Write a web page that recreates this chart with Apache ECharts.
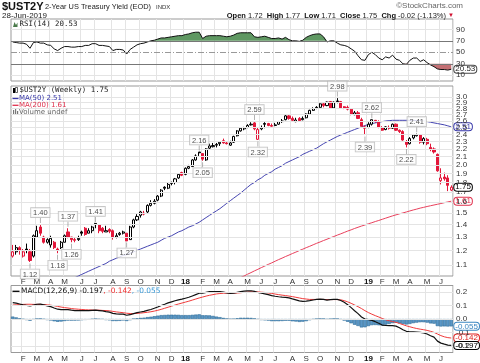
<!DOCTYPE html>
<html>
<head>
<meta charset="utf-8">
<script src="https://cdn.jsdelivr.net/npm/echarts@6/dist/echarts.min.js"></script>
<style>
html,body{margin:0;padding:0;background:#fff;}
#chart{width:480px;height:363px;}
</style>
</head>
<body>
<div id="chart"></div>
<script>
// ---------------- data ----------------
const firstWeekUTC = [2017, 0, 16];   // Monday of first weekly bar
const weekCount = 128;
const priorClose = 1.20;

const opens = [1.16,1.19,1.22,1.16,1.21,1.19,1.16,1.30,1.38,1.30,
1.26,1.24,1.26,1.21,1.22,1.26,1.34,1.30,1.28,1.28,
1.34,1.37,1.33,1.35,1.41,1.40,1.37,1.34,1.36,1.35,
1.30,1.32,1.33,1.33,1.28,1.38,1.44,1.48,1.49,1.51,
1.57,1.59,1.62,1.66,1.75,1.74,1.79,1.80,1.85,1.91,
1.89,1.96,1.98,2.06,2.16,2.14,2.06,2.21,2.23,2.25,
2.27,2.31,2.28,2.25,2.29,2.38,2.45,2.48,2.50,2.54,
2.57,2.33,2.48,2.56,2.56,2.53,2.53,2.55,2.59,2.62,
2.68,2.64,2.59,2.64,2.62,2.65,2.71,2.77,2.81,2.82,
2.88,2.85,2.92,2.81,2.93,2.92,2.83,2.82,2.79,2.70,
2.73,2.62,2.51,2.50,2.55,2.61,2.59,2.50,2.47,2.50,
2.49,2.55,2.46,2.44,2.30,2.27,2.35,2.38,2.39,2.29,
2.33,2.22,2.20,2.13,1.82,1.86,1.85,1.72];
const highs = [1.24,1.24,1.23,1.21,1.25,1.21,1.32,1.39,1.40,1.31,
1.29,1.31,1.27,1.22,1.27,1.32,1.37,1.30,1.30,1.31,
1.35,1.38,1.37,1.39,1.41,1.40,1.38,1.39,1.37,1.36,
1.33,1.34,1.35,1.33,1.39,1.45,1.49,1.52,1.52,1.58,
1.62,1.63,1.67,1.73,1.76,1.80,1.81,1.85,1.90,1.92,
1.97,2.00,2.07,2.13,2.16,2.14,2.21,2.27,2.28,2.28,
2.30,2.34,2.30,2.31,2.38,2.46,2.50,2.51,2.55,2.58,
2.59,2.50,2.53,2.58,2.57,2.56,2.57,2.60,2.63,2.70,
2.70,2.67,2.65,2.66,2.67,2.72,2.78,2.82,2.84,2.89,
2.90,2.92,2.93,2.92,2.98,2.93,2.84,2.85,2.80,2.76,
2.76,2.65,2.53,2.58,2.62,2.615,2.61,2.52,2.52,2.53,
2.56,2.56,2.47,2.46,2.32,2.36,2.40,2.41,2.40,2.36,
2.35,2.27,2.22,2.14,1.96,1.91,1.88,1.77];
const lows = [1.15,1.17,1.17,1.15,1.18,1.12,1.15,1.30,1.31,1.25,
1.25,1.22,1.21,1.18,1.21,1.26,1.29,1.26,1.26,1.27,
1.31,1.31,1.33,1.33,1.37,1.33,1.33,1.34,1.33,1.28,
1.29,1.31,1.32,1.27,1.28,1.37,1.43,1.46,1.48,1.50,
1.56,1.58,1.61,1.65,1.72,1.73,1.77,1.78,1.84,1.87,
1.88,1.95,1.98,2.05,2.11,2.05,2.05,2.20,2.22,2.22,
2.24,2.27,2.26,2.24,2.28,2.37,2.44,2.46,2.49,2.53,
2.46,2.32,2.46,2.49,2.52,2.51,2.52,2.54,2.57,2.61,
2.62,2.60,2.58,2.59,2.61,2.64,2.70,2.76,2.79,2.81,
2.82,2.84,2.80,2.80,2.89,2.80,2.79,2.77,2.69,2.69,
2.63,2.52,2.39,2.49,2.53,2.57,2.49,2.45,2.46,2.47,
2.48,2.45,2.42,2.31,2.22,2.26,2.33,2.37,2.27,2.26,
2.25,2.17,2.14,1.92,1.78,1.82,1.71,1.71];
const closes = [1.19,1.22,1.20,1.19,1.20,1.13,1.31,1.35,1.33,1.26,
1.28,1.29,1.22,1.20,1.26,1.31,1.30,1.28,1.275,1.29,
1.33,1.32,1.35,1.38,1.40,1.35,1.345,1.35,1.345,1.30,
1.31,1.33,1.34,1.27,1.38,1.44,1.47,1.51,1.50,1.57,
1.59,1.61,1.66,1.72,1.74,1.78,1.80,1.84,1.89,1.88,
1.96,1.98,2.06,2.11,2.15,2.07,2.20,2.24,2.245,2.26,
2.29,2.28,2.27,2.28,2.37,2.45,2.49,2.50,2.53,2.55,
2.48,2.47,2.50,2.55,2.53,2.52,2.54,2.59,2.60,2.68,
2.64,2.61,2.615,2.605,2.64,2.71,2.77,2.80,2.82,2.88,
2.85,2.91,2.81,2.91,2.92,2.81,2.805,2.79,2.71,2.73,
2.64,2.52,2.49,2.55,2.62,2.60,2.50,2.46,2.51,2.49,
2.55,2.46,2.44,2.32,2.26,2.34,2.39,2.395,2.29,2.34,
2.27,2.20,2.16,1.93,1.85,1.84,1.77,1.75];

const ma50 = [0.85,0.86,0.87,0.87,0.88,0.89,0.90,0.91,0.92,0.93,
0.94,0.95,0.96,0.97,0.98,0.99,1.00,1.01,1.02,1.03,
1.04,1.05,1.06,1.07,1.08,1.09,1.10,1.11,1.125,1.135,
1.145,1.155,1.165,1.17,1.18,1.19,1.20,1.21,1.22,1.23,
1.24,1.25,1.26,1.275,1.29,1.30,1.31,1.325,1.34,1.35,
1.365,1.38,1.39,1.405,1.42,1.44,1.46,1.48,1.50,1.52,
1.54,1.565,1.59,1.615,1.64,1.665,1.69,1.72,1.75,1.78,
1.80,1.83,1.85,1.88,1.90,1.92,1.95,1.97,1.99,2.02,
2.04,2.06,2.08,2.10,2.13,2.15,2.17,2.19,2.21,2.24,
2.27,2.295,2.32,2.345,2.37,2.39,2.41,2.43,2.45,2.47,
2.49,2.51,2.53,2.545,2.56,2.57,2.58,2.59,2.60,2.605,
2.61,2.61,2.61,2.61,2.61,2.61,2.61,2.605,2.60,2.595,
2.59,2.58,2.57,2.56,2.55,2.54,2.525,2.51];
const ma200 = [null,null,null,null,null,null,null,null,null,null,
null,null,null,null,null,null,null,null,null,null,
null,null,null,null,null,null,null,null,null,null,
null,null,null,null,null,null,null,null,null,null,
null,null,null,null,null,null,null,null,null,null,
null,null,null,null,null,null,null,null,null,null,
0.958,0.968,0.978,0.989,0.999,1.009,1.020,1.030,1.041,1.051,
1.062,1.072,1.083,1.093,1.104,1.114,1.125,1.136,1.146,1.157,
1.167,1.178,1.188,1.199,1.209,1.220,1.230,1.241,1.252,1.262,
1.273,1.283,1.294,1.304,1.315,1.325,1.336,1.347,1.357,1.368,
1.378,1.388,1.397,1.407,1.416,1.426,1.435,1.445,1.455,1.465,
1.475,1.484,1.493,1.501,1.510,1.519,1.528,1.536,1.545,1.552,
1.560,1.567,1.574,1.581,1.588,1.596,1.603,1.610];

const rsi = [68,67,66,66,64,57,67,68,66,66,
63,62,56,53,57,60,60,59,59,60,
60,62,62,65,65,62,62,61,60,53,
55,55,54,47,55,59,63,65,66,68,
70,71,73,75,75,76,77,78,79,79,
81,82,84,85,85,74,78,79,79,79,
79,78,77,78,80,83,84,84,84,84,
77,76,77,78,76,74,74,75,73,76,
72,70,70,69,71,76,79,81,82,82,
77,68,70,70,66,63,62,60,56,52,
44,37,36,46,50,46,40,37,42,40,
45,38,36,30,29,36,40,40,34,37,
32,28,25,21,20,20,19,20.53];

const macd = [0.122,0.118,0.112,0.106,0.102,0.097,0.104,0.110,0.111,0.105,
0.098,0.092,0.082,0.073,0.070,0.070,0.070,0.066,0.063,0.062,
0.062,0.062,0.062,0.064,0.066,0.063,0.060,0.055,0.051,0.042,
0.038,0.036,0.036,0.028,0.032,0.040,0.047,0.052,0.057,0.064,
0.071,0.080,0.090,0.101,0.110,0.120,0.128,0.136,0.143,0.148,
0.155,0.162,0.172,0.182,0.192,0.192,0.199,0.204,0.205,0.205,
0.204,0.200,0.195,0.191,0.192,0.199,0.205,0.208,0.210,0.211,
0.206,0.198,0.192,0.188,0.182,0.175,0.170,0.166,0.163,0.162,
0.158,0.150,0.143,0.135,0.132,0.133,0.137,0.142,0.146,0.148,
0.147,0.141,0.144,0.147,0.146,0.138,0.125,0.107,0.085,0.062,
0.040,0.015,0.000,-0.005,-0.010,-0.020,-0.032,-0.045,-0.048,-0.050,
-0.050,-0.053,-0.065,-0.080,-0.092,-0.095,-0.096,-0.098,-0.100,-0.104,
-0.112,-0.125,-0.135,-0.165,-0.180,-0.188,-0.195,-0.197];
const signal = [0.104,0.106,0.108,0.109,0.110,0.110,0.109,0.109,0.109,0.108,
0.106,0.103,0.099,0.094,0.089,0.085,0.082,0.078,0.075,0.073,
0.071,0.069,0.068,0.067,0.066,0.066,0.064,0.063,0.061,0.057,
0.053,0.050,0.047,0.043,0.041,0.040,0.042,0.044,0.047,0.050,
0.054,0.059,0.065,0.072,0.080,0.088,0.096,0.104,0.112,0.119,
0.126,0.133,0.141,0.149,0.157,0.164,0.171,0.177,0.182,0.187,
0.190,0.192,0.193,0.193,0.193,0.194,0.196,0.199,0.201,0.203,
0.203,0.202,0.200,0.198,0.194,0.191,0.186,0.182,0.178,0.175,
0.171,0.167,0.162,0.157,0.152,0.149,0.146,0.146,0.146,0.146,
0.146,0.145,0.145,0.145,0.145,0.143,0.137,0.128,0.117,0.105,
0.092,0.078,0.062,0.048,0.036,0.025,0.015,0.004,-0.006,-0.013,
-0.019,-0.025,-0.033,-0.042,-0.051,-0.058,-0.065,-0.071,-0.076,-0.080,
-0.085,-0.092,-0.100,-0.112,-0.124,-0.133,-0.139,-0.142];

const priceTicks = [1.1,1.2,1.3,1.4,1.5,1.6,1.7,1.8,1.9,2.0,2.1,2.2,2.3,2.4,2.5,2.6,2.7,2.8,2.9,3.0];
const rsiTicks = [90,70,50,30,10];
const macdTicks = [0.2,0.1,0.0,-0.1,-0.2];
const annotIdx  = [5,8,13,16,17,24,33,54,55,70,71,94,102,104,114,117];
const annotSide = ['low','high','low','high','low','high','low','high','low','high','low','high','low','high','low','high'];
const monthLetters = ['J','F','M','A','M','J','J','A','S','O','N','D'];

// ---------------- derived tables ----------------
const weeks = [];
const t0 = Date.UTC(firstWeekUTC[0], firstWeekUTC[1], firstWeekUTC[2]);
for (let i = 0; i < weekCount; i++) weeks.push(new Date(t0 + i * 7 * 86400000).toISOString().slice(0, 10));
const monthStart = weeks.map((w, i) => i > 0 && w.slice(5, 7) !== weeks[i - 1].slice(5, 7));

const RED = '#e3173a', BLK = '#000000';
const candleData = closes.map((c, i) => {
  const prev = i === 0 ? priorClose : closes[i - 1];
  const col = c < prev ? RED : BLK;
  const fill = c > opens[i] ? '#ffffff' : col;
  return { value: [opens[i], c, lows[i], highs[i]],
    itemStyle: { color: fill, color0: fill, borderColor: col, borderColor0: col, borderColorDoji: col } };
});
const hist = macd.map((m, i) => +(m - signal[i]).toFixed(3));
const rsiUpBase = rsi.map(() => 70);
const rsiUpExcess = rsi.map(v => Math.max(v - 70, 0));
const rsiDnBase = rsi.map(v => Math.min(v, 30));
const rsiDnGap = rsi.map(v => 30 - Math.min(v, 30));
const last = a => a[a.length - 1];

const FONT = '"Liberation Sans", Arial, sans-serif';
const GRIDC = '#e4e4e4';

function xAxisFor(gi, showLabels) {
  return {
    type: 'category', gridIndex: gi, data: weeks, boundaryGap: true,
    axisLine: { show: false }, axisTick: { show: false },
    axisLabel: {
      show: showLabels, interval: (i) => monthStart[i], margin: 2,
      fontSize: 8, fontFamily: FONT, color: '#333',
      formatter: (v) => { const m = +v.slice(5, 7); return m === 1 ? '{y|' + v.slice(2, 4) + '}' : monthLetters[m - 1]; },
      rich: { y: { fontSize: 8, fontWeight: 'bold', fontFamily: FONT, color: '#111' } }
    },
    splitLine: { show: true, interval: (i) => monthStart[i], lineStyle: { color: GRIDC, width: 1 } }
  };
}
function tickLabel() {
  return { show: true, position: 'end', formatter: '{b}', fontSize: 8, fontFamily: FONT, color: '#333', distance: 3 };
}
function endLbl(text, col, border) {
  return { show: true, formatter: () => text, color: col, fontSize: 8, fontFamily: FONT,
    backgroundColor: '#fff', borderColor: border, borderWidth: 1, borderRadius: 3, padding: [0, 1, -1, 1], distance: 3 };
}
const hidden = { opacity: 0 };
const GZ = 100;

const chart = echarts.init(document.getElementById('chart'), null, { renderer: 'canvas' });
chart.setOption({
  animation: false,
  backgroundColor: '#fff',
  grid: [
    { left: 11, right: 27, top: 19, height: 62, show: true, borderColor: '#999', borderWidth: 1, backgroundColor: '#fff' },
    { left: 11, right: 27, top: 86, height: 190, show: true, borderColor: '#999', borderWidth: 1, backgroundColor: '#fff' },
    { left: 11, right: 27, top: 285.5, height: 67, show: true, borderColor: '#999', borderWidth: 1, backgroundColor: '#fff' }
  ],
  xAxis: [xAxisFor(0, false), xAxisFor(1, true), xAxisFor(2, true)],
  yAxis: [
    { type: 'value', gridIndex: 0, min: 0, max: 108, show: false, splitLine: { show: false } },
    { type: 'log', gridIndex: 1, logBase: 10, min: 1.03, max: 3.2036, show: false, splitLine: { show: false } },
    { type: 'value', gridIndex: 2, min: -0.25, max: 0.25, show: false, splitLine: { show: false } }
  ],
  series: [
    // ---- RSI panel ----
    { type: 'line', xAxisIndex: 0, yAxisIndex: 0, data: rsi, symbol: 'none', lineStyle: hidden, silent: true, z: 1,
      markLine: { silent: true, symbol: ['none', 'none'], label: tickLabel(),
        data: rsiTicks.map(v => ({ yAxis: v, name: String(v),
          lineStyle: v === 50 ? { color: '#999', type: [6, 2, 1, 2], width: 1 } :
                     (v === 70 || v === 30) ? { color: '#777', type: 'solid', width: 1 } :
                     { color: GRIDC, type: 'solid', width: 1 } })) } },
    { type: 'line', xAxisIndex: 0, yAxisIndex: 0, data: rsiUpBase, stack: 'up', symbol: 'none', lineStyle: hidden, silent: true, z: 2 },
    { type: 'line', xAxisIndex: 0, yAxisIndex: 0, data: rsiUpExcess, stack: 'up', symbol: 'none', lineStyle: hidden, silent: true, z: 2,
      areaStyle: { color: '#5f9862', opacity: 1 } },
    { type: 'line', xAxisIndex: 0, yAxisIndex: 0, data: rsiDnBase, stack: 'dn', symbol: 'none', lineStyle: hidden, silent: true, z: 2 },
    { type: 'line', xAxisIndex: 0, yAxisIndex: 0, data: rsiDnGap, stack: 'dn', symbol: 'none', lineStyle: hidden, silent: true, z: 2,
      areaStyle: { color: '#c46f73', opacity: 1 } },
    { type: 'line', xAxisIndex: 0, yAxisIndex: 0, data: rsi, symbol: 'none', z: 4,
      lineStyle: { color: '#111', width: 1 }, endLabel: endLbl(last(rsi).toFixed(2), '#222', '#444') },

    // ---- price panel ----
    { type: 'line', xAxisIndex: 1, yAxisIndex: 1, data: closes, symbol: 'none', lineStyle: hidden, silent: true, z: 1,
      markLine: { silent: true, symbol: ['none', 'none'], label: tickLabel(),
        lineStyle: { color: GRIDC, type: 'solid', width: 1 },
        data: priceTicks.map(v => ({ yAxis: v, name: v.toFixed(1) })) } },
    { type: 'line', xAxisIndex: 1, yAxisIndex: 1, data: ma200, symbol: 'none', z: 3,
      lineStyle: { color: '#e8405c', width: 1 }, endLabel: endLbl(last(ma200).toFixed(2), '#e0304c', '#e0304c') },
    { type: 'line', xAxisIndex: 1, yAxisIndex: 1, data: ma50, symbol: 'none', z: 3,
      lineStyle: { color: '#4545b0', width: 1 }, endLabel: endLbl(last(ma50).toFixed(2), '#3535a8', '#3535a8') },
    { type: 'candlestick', xAxisIndex: 1, yAxisIndex: 1, data: candleData, barWidth: 2.6, z: 4,
      itemStyle: { borderWidth: 1 } },
    { type: 'line', xAxisIndex: 1, yAxisIndex: 1, data: closes, symbol: 'none', lineStyle: hidden, silent: true, z: 6,
      endLabel: endLbl(last(closes).toFixed(2), '#000', '#000') },
    { type: 'scatter', xAxisIndex: 1, yAxisIndex: 1, z: 5, silent: true,
      data: annotIdx.map((i, k) => {
        const top = annotSide[k] === 'high';
        return { value: [i, top ? highs[i] : lows[i]], symbolOffset: [0, top ? -4 : 4],
          label: { position: top ? 'top' : 'bottom' } };
      }),
      symbol: 'rect', symbolSize: [0.8, 5], itemStyle: { color: '#888' },
      label: { show: true, formatter: p => p.value[1].toFixed(2), fontSize: 7.5, fontFamily: FONT, color: '#222',
        backgroundColor: '#fff', borderColor: '#b5b5b5', borderWidth: 0.8, padding: [1, 2, 0, 2], distance: 1 } },

    // ---- MACD panel ----
    { type: 'line', xAxisIndex: 2, yAxisIndex: 2, data: macd, symbol: 'none', lineStyle: hidden, silent: true, z: 1,
      markLine: { silent: true, symbol: ['none', 'none'], label: tickLabel(),
        lineStyle: { color: GRIDC, type: 'solid', width: 1 },
        data: macdTicks.map(v => ({ yAxis: v, name: v.toFixed(1) })) } },
    { type: 'bar', xAxisIndex: 2, yAxisIndex: 2, data: hist, barCategoryGap: '0%', z: 2,
      itemStyle: { color: '#5b97c6', borderColor: '#2e6b98', borderWidth: 0.6 } },
    { type: 'line', xAxisIndex: 2, yAxisIndex: 2, data: hist, symbol: 'none', lineStyle: hidden, silent: true, z: 5,
      endLabel: endLbl(last(hist).toFixed(3), '#3a86c0', '#3a86c0') },
    { type: 'line', xAxisIndex: 2, yAxisIndex: 2, data: signal, symbol: 'none', z: 3,
      lineStyle: { color: '#f03a3a', width: 1 }, endLabel: endLbl(last(signal).toFixed(3), '#e02020', '#e02020') },
    { type: 'line', xAxisIndex: 2, yAxisIndex: 2, data: macd, symbol: 'none', z: 4,
      lineStyle: { color: '#111', width: 1.2 }, endLabel: endLbl(last(macd).toFixed(3), '#000', '#000') }
  ],
  graphic: [
    { type: 'text', z: GZ, left: 2, top: 1, style: { text: '$UST2Y', font: 'bold 11px ' + FONT, fill: '#111' } },
    { type: 'text', z: GZ, left: 45, top: 3, style: { text: '2-Year US Treasury Yield (EOD)', font: '7.4px ' + FONT, fill: '#222' } },
    { type: 'text', z: GZ, left: 156, top: 4.5, style: { text: 'INDX', font: '6px ' + FONT, fill: '#333' } },
    { type: 'text', z: GZ, left: 2, top: 11.5, style: { text: '28-Jun-2019', font: '8px ' + FONT, fill: '#222' } },
    { type: 'text', z: GZ, right: 17, top: 1.5, style: { text: '\u00A9StockCharts.com', font: '8px ' + FONT, fill: '#666' } },
    { type: 'text', z: GZ, right: 26, top: 11.5, style: {
        text: '{b|Open} 1.72  {b|High} 1.77  {b|Low} 1.71  {b|Close} 1.75  {b|Chg} -0.02 (-1.13%) {r|\u25BC}',
        fontSize: 7.5, fontFamily: FONT, fill: '#222',
        rich: { b: { fontWeight: 'bold', fontSize: 7.5, fontFamily: FONT, fill: '#111' },
                r: { fontSize: 6, fontFamily: FONT, fill: '#d01030' } } } },
    // RSI legend
    { type: 'polygon', z: GZ, shape: { points: [[13, 27], [14.5, 22], [16, 25], [17.5, 22.5], [17.5, 27]] }, style: { fill: '#4a7a4a' } },
    { type: 'text', z: GZ, left: 19.5, top: 21, style: { text: 'RSI(14) ' + last(rsi).toFixed(2), font: '7.4px "DejaVu Sans Mono", monospace', fill: '#222' } },
    // price legend
    { type: 'rect', z: GZ, shape: { x: 13, y: 88, width: 2, height: 5 }, style: { fill: '#000' } },
    { type: 'rect', z: GZ, shape: { x: 15.5, y: 87.5, width: 2, height: 5 }, style: { fill: '#fff', stroke: '#000', lineWidth: 0.6 } },
    { type: 'text', z: GZ, left: 19.5, top: 87, style: { text: '$UST2Y (Weekly) ' + last(closes).toFixed(2), font: '7.4px "DejaVu Sans Mono", monospace', fill: '#222' } },
    { type: 'line', z: GZ, shape: { x1: 12.5, y1: 98.5, x2: 18.5, y2: 98.5 }, style: { stroke: '#3535a8', lineWidth: 1.3 } },
    { type: 'text', z: GZ, left: 19, top: 94.8, style: { text: 'MA(50) ' + last(ma50).toFixed(2), font: '7px "DejaVu Sans", sans-serif', fill: '#3535a8' } },
    { type: 'line', z: GZ, shape: { x1: 12.5, y1: 105.3, x2: 18.5, y2: 105.3 }, style: { stroke: '#e0304c', lineWidth: 1.3 } },
    { type: 'text', z: GZ, left: 19, top: 101.6, style: { text: 'MA(200) ' + last(ma200).toFixed(2), font: '7px "DejaVu Sans", sans-serif', fill: '#e0304c' } },
    { type: 'rect', z: GZ, shape: { x: 13, y: 110, width: 1.2, height: 4 }, style: { fill: '#777' } },
    { type: 'rect', z: GZ, shape: { x: 15, y: 109, width: 1.2, height: 5 }, style: { fill: '#777' } },
    { type: 'rect', z: GZ, shape: { x: 17, y: 111, width: 1.2, height: 3 }, style: { fill: '#777' } },
    { type: 'text', z: GZ, left: 19, top: 108.6, style: { text: 'Volume undef', font: '7px "DejaVu Sans", sans-serif', fill: '#666' } },
    // MACD legend
    { type: 'line', z: GZ, shape: { x1: 12.5, y1: 291.3, x2: 19.5, y2: 291.3 }, style: { stroke: '#000', lineWidth: 1.3 } },
    { type: 'text', z: GZ, left: 21, top: 287.2, style: {
        text: 'MACD(12,26,9) ' + last(macd).toFixed(3) + '{r|, ' + last(signal).toFixed(3) + '}{b|, ' + last(hist).toFixed(3) + '}',
        fontSize: 7.4, fontFamily: '"DejaVu Sans", sans-serif', fill: '#111',
        rich: { r: { fontSize: 7.4, fontFamily: '"DejaVu Sans", sans-serif', fill: '#f03030' },
                b: { fontSize: 7.4, fontFamily: '"DejaVu Sans", sans-serif', fill: '#3a9ad8' } } } }
  ]
});
</script>
</body>
</html>
